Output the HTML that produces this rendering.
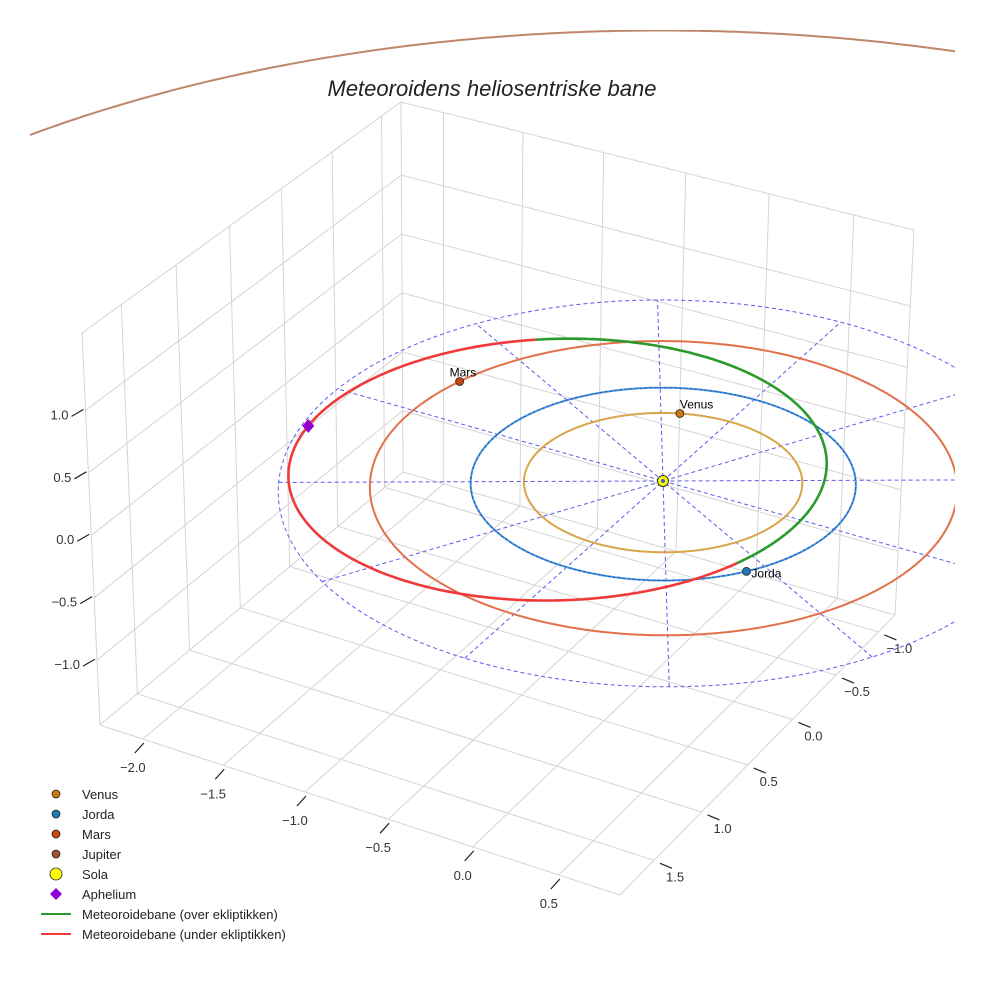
<!DOCTYPE html>
<html><head><meta charset="utf-8"><style>
html,body{margin:0;padding:0;background:#fff;width:984px;height:984px;overflow:hidden;}
svg{display:block;font-family:"Liberation Sans",sans-serif;}
</style></head><body>
<svg id="chart" width="984" height="984" viewBox="0 0 984 984" xmlns="http://www.w3.org/2000/svg">
<defs><clipPath id="clip"><rect x="30" y="30" width="925" height="925"/></clipPath></defs>
<rect width="984" height="984" fill="#fff"/>
<g id="grid"></g>
<g id="ticks"></g>
<g id="data" clip-path="url(#clip)"></g>
<text x="492" y="96" text-anchor="middle" font-size="22" font-style="italic" fill="#222">Meteoroidens heliosentriske bane</text>
<g id="legend"></g>
</svg>
<script>
// ---- data ----
const planetNames = ['Venus','Jorda','Mars','Jupiter'];
const orbitRadius = [0.723, 1.0, 1.524, 5.5];
const planetAngleDeg = [248, 36, 195, 120];
const orbitColors = ['#d9a44a','#4a9ad8','#e0714a','#bf8769'];
const markerColors = ['#c87a10','#1f77b4','#cc4410','#a0522d'];
const meteorPerihelion = [0.83];
const meteorEccentricity = [0.42];
const meteorPerihelionLongDeg = [352];
const meteorNodeDeg = [216];
const meteorInclinationDeg = [5];
const eclipticGridRadius = [2.0];
const eclipticSpokesDeg = [0,30,60,90,120,150];
const xTicks = [-2.0,-1.5,-1.0,-0.5,0.0,0.5];
const yTicks = [-1.0,-0.5,0.0,0.5,1.0,1.5];
const zTicks = [-1.0,-0.5,0.0,0.5,1.0];
const xRange = [-2.27, 0.85];
const yRange = [-1.2, 1.85];
const zRange = [-1.52, 1.62];

// ---- projection ----
function solve(A,b){const n=b.length;for(let i=0;i<n;i++){let m=i;for(let k=i+1;k<n;k++)if(Math.abs(A[k][i])>Math.abs(A[m][i]))m=k;[A[i],A[m]]=[A[m],A[i]];[b[i],b[m]]=[b[m],b[i]];for(let k=i+1;k<n;k++){const f=A[k][i]/A[i][i];for(let j=i;j<n;j++)A[k][j]-=f*A[i][j];b[k]-=f*b[i];}}const x=new Array(n);for(let i=n-1;i>=0;i--){let s=b[i];for(let j=i+1;j<n;j++)s-=A[i][j]*x[j];x[i]=s/A[i][i];}return x;}
function homog(src,dst){const A=[],b=[];for(let i=0;i<4;i++){const[x,y]=src[i],[X,Y]=dst[i];A.push([x,y,1,0,0,0,-X*x,-X*y]);b.push(X);A.push([0,0,0,x,y,1,-Y*x,-Y*y]);b.push(Y);}const h=solve(A,b);return(u,v)=>{const d=h[6]*u+h[7]*v+1;return[(h[0]*u+h[1]*v+h[2])/d,(h[3]*u+h[4]*v+h[5])/d];};}
const sq=[[0,0],[1,0],[0,1],[1,1]];
const Hf=homog(sq,[[403,472],[895,615],[100,725],[620,895]]);
const Ht=homog(sq,[[401,102],[914,230],[82,333],[622,485]]);
function projUVW(u,v,w){const a=Hf(u,v),b=Ht(u,v);return[a[0]+(b[0]-a[0])*w,a[1]+(b[1]-a[1])*w];}
function proj(x,y,z){return projUVW((x-xRange[0])/(xRange[1]-xRange[0]),(y-yRange[0])/(yRange[1]-yRange[0]),(z-zRange[0])/(zRange[1]-zRange[0]));}
const o0=proj(0,0,0);const off=[663-o0[0],481-o0[1]];
function P(x,y,z){const p=proj(x,y,z);return[p[0]+off[0],p[1]+off[1]];}
const NS='http://www.w3.org/2000/svg';
function el(tag,attrs,parent){const e=document.createElementNS(NS,tag);for(const k in attrs)e.setAttribute(k,attrs[k]);parent.appendChild(e);return e;}
function pts(arr){return arr.map(p=>p[0].toFixed(1)+','+p[1].toFixed(1)).join(' ');}
const inB=p=>p[0]>=20&&p[0]<=964&&p[1]>=20&&p[1]<=964;
// split a polyline into pieces that stay (roughly) inside the frame
function pieces(arr){const out=[];let cur=[];for(let i=0;i<arr.length;i++){const p=arr[i];
 if(inB(p)){if(cur.length===0&&i>0)cur.push(arr[i-1]);cur.push(p);}
 else{if(cur.length){cur.push(p);out.push(cur);cur=[];}}}
 if(cur.length)out.push(cur);return out;}
const U=x=>(x-xRange[0])/(xRange[1]-xRange[0]);
const V=y=>(y-yRange[0])/(yRange[1]-yRange[0]);
const W=z=>(z-zRange[0])/(zRange[1]-zRange[0]);

// ---- grid ----
const grid=document.getElementById('grid');
function gline(f,name){const a=[];for(let i=0;i<=20;i++)a.push(f(i/20));const l=el('polyline',{points:pts(a),fill:'none',stroke:'#d4d4d4','stroke-width':1},grid);

}
xTicks.forEach(t=>{gline(s=>projUVW(U(t),s,0),'floor-grid-x');gline(s=>projUVW(U(t),0,s),'wall-grid-x');});
yTicks.forEach(t=>{gline(s=>projUVW(s,V(t),0),'floor-grid-y');gline(s=>projUVW(0,V(t),s),'wall-grid-y');});
zTicks.forEach(t=>{gline(s=>projUVW(0,s,W(t)),'wall-grid-z');gline(s=>projUVW(s,0,W(t)),'wall-grid-z');});
[[s=>projUVW(s,1,0)],[s=>projUVW(1,s,0)],[s=>projUVW(0,1,s)],[s=>projUVW(0,0,s)],[s=>projUVW(1,0,s)],[s=>projUVW(s,0,1)],[s=>projUVW(0,s,1)],[s=>projUVW(s,0,0)],[s=>projUVW(0,s,0)]].forEach(f=>gline(f[0],'pane-edge'));

// ---- ticks ----
const tk=document.getElementById('ticks');
function lbl(x,y,txt,anchor,name){const t=el('text',{x:x,y:y,'font-size':13,fill:'#333','text-anchor':anchor},tk);t.textContent=txt;

}
function fmt(v){return (v<0?'\u2212':'')+Math.abs(v).toFixed(1);}
xTicks.forEach(t=>{const p=projUVW(U(t),1,0);el('line',{x1:p[0]-8,y1:p[1]+14,x2:p[0]+1,y2:p[1]+4,stroke:'#222','stroke-width':1.2},tk);lbl(p[0]-10,p[1]+33,fmt(t),'middle','x-tick-label');});
yTicks.forEach(t=>{const p=projUVW(1,V(t),0);el('line',{x1:p[0]+6,y1:p[1]+3,x2:p[0]+18,y2:p[1]+8,stroke:'#222','stroke-width':1.2},tk);lbl(p[0]+21,p[1]+21,fmt(t),'middle','y-tick-label');});
zTicks.forEach(t=>{const p=projUVW(0,1,W(t));el('line',{x1:p[0]-14,y1:p[1]+6,x2:p[0]-2,y2:p[1]-1,stroke:'#222','stroke-width':1.2},tk);lbl(p[0]-17,p[1]+9,fmt(t),'end','z-tick-label');});

// ---- data ----
const g=document.getElementById('data');
const D=Math.PI/180;
function drawLine(arr,attrs,name){pieces(arr).forEach(pc=>{const a=Object.assign({points:pts(pc),fill:'none'},attrs);const l=el('polyline',a,g);

});}
(function(){const a=[];for(let i=0;i<=240;i++){const th=i/240*2*Math.PI;a.push(P(eclipticGridRadius[0]*Math.cos(th),eclipticGridRadius[0]*Math.sin(th),0));}
drawLine(a,{stroke:'#5a5af0','stroke-width':1,'stroke-dasharray':'4 3'},'ecliptic-grid-circle');
eclipticSpokesDeg.forEach(d=>{const r=eclipticGridRadius[0];const a=P(r*Math.cos(d*D),r*Math.sin(d*D),0),b=P(-r*Math.cos(d*D),-r*Math.sin(d*D),0);
const l=el('line',{x1:a[0],y1:a[1],x2:b[0],y2:b[1],stroke:'#5a5af0','stroke-width':1,'stroke-dasharray':'4 3'},g);

});})();
orbitRadius.forEach((r,i)=>{const a=[];for(let k=0;k<=720;k++){const th=k/2*D;a.push(P(r*Math.cos(th),r*Math.sin(th),0));}
drawLine(a,{stroke:orbitColors[i],'stroke-width':2},'orbit-'+planetNames[i].toLowerCase());
if(i===1)drawLine(a,{stroke:'#2458c8','stroke-width':1,'stroke-dasharray':'3 2'},'earth-orbit-dashed');});
const q=meteorPerihelion[0],e=meteorEccentricity[0],p=q*(1+e),lp=meteorPerihelionLongDeg[0]*D,Om=meteorNodeDeg[0]*D,inc=meteorInclinationDeg[0]*D;
function mpos(nu){const r=p/(1+e*Math.cos(nu));const L=lp+nu;const uu=L-Om;
const z=r*Math.sin(inc)*Math.sin(uu);const xy=r*Math.sqrt(1-Math.pow(Math.sin(inc)*Math.sin(uu),2));return[xy*Math.cos(L),xy*Math.sin(L),z];}
let seg=[],above=null;
function flush(){if(seg.length>1){const l=el('polyline',{points:pts(seg),fill:'none',stroke:above?'#2b9a2b':'#f03a3a','stroke-width':2.6},g);

}}
for(let k=0;k<=720;k++){const m=mpos(k/720*2*Math.PI);const a=m[2]>=0;const s=P(m[0],m[1],m[2]);
if(above===null)above=a;if(a!==above){seg.push(s);flush();seg=[s];above=a;}else seg.push(s);}
flush();
const S=P(0,0,0);
const sun=el('circle',{cx:S[0],cy:S[1],r:5.5,fill:'#ffff00',stroke:'#333','stroke-width':1},g);


el('circle',{cx:S[0],cy:S[1],r:2,fill:'#3a5ad0'},g);
planetNames.forEach((n,i)=>{const th=planetAngleDeg[i]*D;const s=P(orbitRadius[i]*Math.cos(th),orbitRadius[i]*Math.sin(th),0);
if(!inB(s))return;
const c=el('circle',{cx:s[0],cy:s[1],r:4,fill:markerColors[i],stroke:'#222','stroke-width':0.8},g);


if(i<3){const t=el('text',{x:i===1?s[0]+5:(i===0?s[0]:s[0]-10),y:i===1?s[1]+6:s[1]-5,'font-size':12,fill:'#000'},g);t.textContent=n;

}});
const ap=P(...mpos(Math.PI));
const dia=el('polygon',{points:pts([[ap[0],ap[1]-7],[ap[0]+6,ap[1]],[ap[0],ap[1]+7],[ap[0]-6,ap[1]]]),fill:'#9400d3'},g);



// ---- legend ----
const lg=document.getElementById('legend');
const legendItems=[['Venus','c',markerColors[0]],['Jorda','c',markerColors[1]],['Mars','c',markerColors[2]],['Jupiter','c',markerColors[3]],['Sola','s','#ffff00'],['Aphelium','d','#9400d3'],['Meteoroidebane (over ekliptikken)','l','#2b9a2b'],['Meteoroidebane (under ekliptikken)','l','#f03a3a']];
legendItems.forEach((it,i)=>{const y=794+i*20;const gi=el('g',{},lg);


if(it[1]==='c')el('circle',{cx:56,cy:y,r:4,fill:it[2],stroke:'#222','stroke-width':0.8},gi);
if(it[1]==='s')el('circle',{cx:56,cy:y,r:6,fill:it[2],stroke:'#222','stroke-width':0.8},gi);
if(it[1]==='d')el('polygon',{points:'56,'+(y-6)+' 62,'+y+' 56,'+(y+6)+' 50,'+y,fill:it[2]},gi);
if(it[1]==='l')el('line',{x1:41,y1:y,x2:71,y2:y,stroke:it[2],'stroke-width':2},gi);
const t=el('text',{x:82,y:y+5,'font-size':13,fill:'#222'},gi);t.textContent=it[0];});
</script>
</body></html>
